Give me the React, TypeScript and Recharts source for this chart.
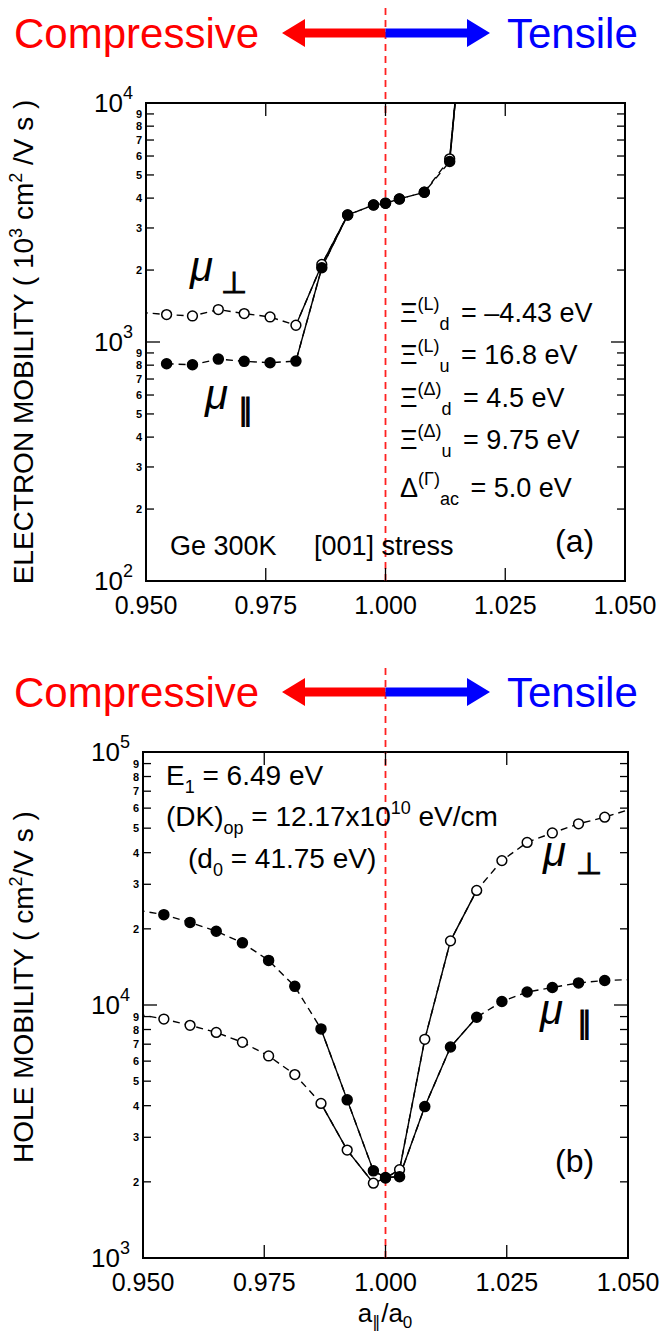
import React from "react";
import { LineChart, Line, XAxis, YAxis, ReferenceArea, ReferenceLine } from "recharts";

// strain points a_par/a0 (the first and last ones sit just outside the frame, they give the edge stubs)
const strainA = [0.9489, 0.9543, 0.9597, 0.9651, 0.9705, 0.9759, 0.9813, 0.9867, 0.9921, 0.9975, 1.0, 1.0029, 1.0081, 1.0134, 1.0188];
const electronPerp = [1330, 1302, 1285, 1367, 1315, 1273, 1175, 2111, 3400, 3745, 3806, 3968, 4232, 5840, 83000];
const electronPar = [null, 811, 803, 848, 830, 819, 832, 2044, 3400, 3745, 3806, 3968, 4232, 5690, 83000];

const strainB = [0.9489, 0.9543, 0.9597, 0.9651, 0.9705, 0.9759, 0.9813, 0.9867, 0.9921, 0.9975, 1.0, 1.0029, 1.0081, 1.0134, 1.0188, 1.024, 1.0292, 1.0344, 1.0398, 1.0452, 1.0506];
const holePerp = [9200, 8800, 8308, 7793, 7124, 6290, 5309, 4084, 2670, 1976, 2070, 2234, 7318, 17925, 28380, 37210, 43930, 47870, 52020, 55260, 59500];
const holePar = [23700, 22760, 21200, 19570, 17610, 15010, 11850, 8045, 4217, 2210, 2080, 2096, 3966, 6820, 8944, 10325, 11250, 11730, 12230, 12500, 12600];

// where the curves are drawn solid instead of dashed
const solidA: [number, number][] = [[0.9813, 0.9921], [1.0134, 1.0188]];
const solidB: [number, number][] = [[0.9867, 1.0188]];

const xTicks = [0.95, 0.975, 1.0, 1.025, 1.05];
const yTicksA = [100, 200, 300, 400, 500, 600, 700, 800, 900, 1000, 2000, 3000, 4000, 5000, 6000, 7000, 8000, 9000, 10000];
const yTicksB = [1000, 2000, 3000, 4000, 5000, 6000, 7000, 8000, 9000, 10000, 20000, 30000, 40000, 50000, 60000, 70000, 80000, 90000, 100000];

const W = 665;
const FONT = "'Liberation Sans', Arial, Helvetica, sans-serif";
const RED = "#ff0000";
const BLUE = "#0000ff";
const DASH_RED = "#ff2020";

function buildRows(xs: number[], perp: (number | null)[], par: (number | null)[], solid: [number, number][]) {
  const inSolid = (x: number) => solid.some(([a, b]) => x >= a - 1e-9 && x <= b + 1e-9);
  return xs.map((x, i) => ({
    x,
    perp: perp[i],
    par: par[i],
    perpSolid: inSolid(x) ? perp[i] : null,
    parSolid: inSolid(x) ? par[i] : null,
  }));
}

function makeYTick(plotW: number) {
  return function YTick(props: any) {
    const { x, y, payload } = props;
    const v: number = payload.value;
    const lg = Math.log10(v);
    const exp = Math.round(lg);
    const major = Math.abs(lg - exp) < 1e-6;
    const len = major ? 14 : 8;
    return (
      <g>
        <line x1={x} x2={x + len} y1={y} y2={y} stroke="#000" strokeWidth={1.3} />
        <line x1={x + plotW} x2={x + plotW - len} y1={y} y2={y} stroke="#000" strokeWidth={1.3} />
        {major ? (
          <text x={x - 13} y={y + 9} textAnchor="end" fontSize={26} fill="#000">
            10<tspan dy={-13} fontSize={18}>{exp}</tspan>
          </text>
        ) : (
          <text x={x - 4} y={y + 4} textAnchor="end" fontSize={11} fontWeight="bold" fill="#000">
            {Math.round(v / Math.pow(10, Math.floor(lg + 1e-9)))}
          </text>
        )}
      </g>
    );
  };
}

function makeXTick(plotH: number) {
  return function XTick(props: any) {
    const { x, y, payload } = props;
    const v: number = payload.value;
    const edge = v <= 0.95 + 1e-9 || v >= 1.05 - 1e-9;
    return (
      <g>
        {!edge && <line x1={x} x2={x} y1={y} y2={y - 13} stroke="#000" strokeWidth={1.3} />}
        {!edge && <line x1={x} x2={x} y1={y - plotH} y2={y - plotH + 13} stroke="#000" strokeWidth={1.3} />}
        <text x={x} y={y + 33} textAnchor="middle" fontSize={25} fill="#000">
          {v.toFixed(3)}
        </text>
      </g>
    );
  };
}

function makeDot(filled: boolean, yDomain: [number, number]) {
  return function Dot(props: any) {
    const { cx, cy, payload, value, index } = props;
    const v = Array.isArray(value) ? value[1] : value;
    if (payload.x < 0.95 || payload.x > 1.05 || v == null || v < yDomain[0] || v > yDomain[1]) {
      return <g key={index} />;
    }
    return (
      <circle
        key={index}
        cx={cx}
        cy={cy}
        r={filled ? 5 : 4.9}
        fill={filled ? "#000" : "#fff"}
        stroke="#000"
        strokeWidth={1.5}
      />
    );
  };
}

type PanelProps = {
  top: number;
  height: number;
  margin: { top: number; right: number; bottom: number; left: number };
  yDomain: [number, number];
  yTicks: number[];
  rows: any[];
};

const Y_W = 60;
const X_H = 50;

function Panel({ top, height, margin, yDomain, yTicks, rows }: PanelProps) {
  const plotW = W - margin.left - Y_W - margin.right;
  const plotH = height - margin.top - margin.bottom - X_H;
  const YTick = makeYTick(plotW);
  const XTick = makeXTick(plotH);
  const lineProps = {
    type: "linear" as const,
    stroke: "#000",
    strokeWidth: 1.4,
    isAnimationActive: false,
    activeDot: false,
  };
  return (
    <div style={{ position: "absolute", left: 0, top }}>
      <LineChart width={W} height={height} data={rows} margin={margin}>
        <XAxis
          dataKey="x"
          type="number"
          domain={[0.95, 1.05]}
          ticks={xTicks}
          allowDataOverflow
          interval={0}
          axisLine={false}
          tickLine={false}
          tickSize={0}
          tickMargin={0}
          height={X_H}
          tick={(p: any) => <XTick {...p} />}
        />
        <YAxis
          type="number"
          scale="log"
          domain={yDomain}
          ticks={yTicks}
          allowDataOverflow
          interval={0}
          axisLine={false}
          tickLine={false}
          tickSize={0}
          tickMargin={0}
          width={Y_W}
          tick={(p: any) => <YTick {...p} />}
        />
        <ReferenceLine x={1} stroke={DASH_RED} strokeWidth={1.8} strokeDasharray="7 5" />
        <Line {...lineProps} dataKey="perpSolid" dot={false} />
        <Line {...lineProps} dataKey="perp" strokeDasharray="7 5" dot={makeDot(false, yDomain)} />
        <Line {...lineProps} dataKey="parSolid" dot={false} />
        <Line {...lineProps} dataKey="par" strokeDasharray="7 5" dot={makeDot(true, yDomain)} />
        <ReferenceArea
          x1={0.95}
          x2={1.05}
          y1={yDomain[0]}
          y2={yDomain[1]}
          fill="none"
          stroke="#000"
          strokeWidth={2}
          ifOverflow="visible"
        />
      </LineChart>
    </div>
  );
}

function Header({ cy, lineX, lineTop, lineBottom }: { cy: number; lineX: number; lineTop: number; lineBottom: number }) {
  const shaft = 4.5;
  const head = 14;
  return (
    <g>
      <line x1={lineX} x2={lineX} y1={lineTop} y2={lineBottom} stroke={DASH_RED} strokeWidth={1.8} strokeDasharray="7 5" />
      <text x={14} y={cy + 15} fontSize={42} fill={RED}>Compressive</text>
      <path
        d={`M${lineX},${cy - shaft} L305,${cy - shaft} L305,${cy - head} L282,${cy} L305,${cy + head} L305,${cy + shaft} L${lineX},${cy + shaft} Z`}
        fill={RED}
      />
      <path
        d={`M${lineX},${cy - shaft} L467,${cy - shaft} L467,${cy - head} L490,${cy} L467,${cy + head} L467,${cy + shaft} L${lineX},${cy + shaft} Z`}
        fill={BLUE}
      />
      <text x={507} y={cy + 15} fontSize={42} fill={BLUE}>Tensile</text>
    </g>
  );
}

function Xi({ x, y, sup, sub, rest, sym = "Ξ" }: { x: number; y: number; sup: string; sub: string; rest: string; sym?: string }) {
  return (
    <text x={x} y={y} fontSize={27} fill="#000">
      {sym}
      <tspan dy={-12} fontSize={18}>{sup}</tspan>
      <tspan dy={20} fontSize={18}>{sub}</tspan>
      <tspan dy={-8} dx={4}>{rest}</tspan>
    </text>
  );
}

function Mu({ x, y, sub, subDx, subDy }: { x: number; y: number; sub: string; subDx: number; subDy: number }) {
  return (
    <text x={x} y={y} fontSize={42} fontStyle="italic" fill="#000">
      μ
      <tspan dx={subDx} dy={subDy} fontSize={30} fontStyle="normal" stroke="#000" strokeWidth={1}>{sub}</tspan>
    </text>
  );
}

const marginA = { top: 103, right: 40, bottom: 9, left: 86 };
const marginB = { top: 92, right: 37, bottom: 23, left: 83 };
const lineXA = marginA.left + Y_W + (W - marginA.left - Y_W - marginA.right) / 2;
const lineXB = marginB.left + Y_W + (W - marginB.left - Y_W - marginB.right) / 2;

export default function App() {
  const rowsA = buildRows(strainA, electronPerp, electronPar, solidA);
  const rowsB = buildRows(strainB, holePerp, holePar, solidB);
  return (
    <div style={{ position: "absolute", left: 0, top: 0, width: W, height: 1331, background: "#fff", fontFamily: FONT }}>
      <Panel top={0} height={640} margin={marginA} yDomain={[100, 10000]} yTicks={yTicksA} rows={rowsA} />
      <Panel top={660} height={671} margin={marginB} yDomain={[1000, 100000]} yTicks={yTicksB} rows={rowsB} />
      <svg width={W} height={1331} style={{ position: "absolute", left: 0, top: 0, pointerEvents: "none", fontFamily: FONT }}>
        <Header cy={33} lineX={lineXA} lineTop={8} lineBottom={marginA.top} />
        <Header cy={692} lineX={lineXB} lineTop={668} lineBottom={660 + marginB.top} />

        {/* panel (a) */}
        <text transform="translate(33,342) rotate(-90)" textAnchor="middle" fontSize={28} fill="#000">
          ELECTRON MOBILITY ( 10<tspan dy={-11} fontSize={18}>3</tspan>
          <tspan dy={11}> cm</tspan>
          <tspan dy={-11} fontSize={18}>2</tspan>
          <tspan dy={11}> /V s )</tspan>
        </text>
        <Mu x={190} y={281} sub="⊥" subDx={8} subDy={12} />
        <Mu x={205} y={409} sub="∥" subDx={10} subDy={11} />
        <Xi x={400} y={322} sup="(L)" sub="d" rest=" = –4.43 eV" />
        <Xi x={400} y={364} sup="(L)" sub="u" rest=" = 16.8 eV" />
        <Xi x={400} y={407} sup="(Δ)" sub="d" rest=" = 4.5 eV" />
        <Xi x={400} y={449} sup="(Δ)" sub="u" rest=" = 9.75 eV" />
        <Xi x={400} y={497} sym="Δ" sup="(Γ)" sub="ac" rest=" = 5.0 eV" />
        <text x={170} y={555} fontSize={27} fill="#000">Ge 300K</text>
        <text x={314} y={555} fontSize={27} fill="#000">[001] stress</text>
        <text x={555} y={552} fontSize={32} fill="#000">(a)</text>

        {/* panel (b) */}
        <text transform="translate(33,987) rotate(-90)" textAnchor="middle" fontSize={28} fill="#000">
          HOLE MOBILITY  ( cm<tspan dy={-11} fontSize={18}>2</tspan>
          <tspan dy={11}>/V s )</tspan>
        </text>
        <text x={166} y={785} fontSize={28} fill="#000">
          E<tspan dy={8} fontSize={18}>1</tspan>
          <tspan dy={-8}> = 6.49 eV</tspan>
        </text>
        <text x={166} y={826} fontSize={28} fill="#000">
          (DK)<tspan dy={8} fontSize={18}>op</tspan>
          <tspan dy={-8}> = 12.17x10</tspan>
          <tspan dy={-12} fontSize={18}>10</tspan>
          <tspan dy={12}> eV/cm</tspan>
        </text>
        <text x={188} y={868} fontSize={28} fill="#000">
          (d<tspan dy={8} fontSize={18}>0</tspan>
          <tspan dy={-8}> = 41.75 eV)</tspan>
        </text>
        <Mu x={543} y={866} sub="⊥" subDx={10} subDy={8} />
        <Mu x={540} y={1024} sub="∥" subDx={14} subDy={9} />
        <text x={555} y={1172} fontSize={32} fill="#000">(b)</text>
        <text x={385} y={1322} textAnchor="middle" fontSize={26} fill="#000">
          a<tspan dy={6} fontSize={17}>∥</tspan>
          <tspan dy={-6}>/a</tspan>
          <tspan dy={6} fontSize={17}>0</tspan>
        </text>
      </svg>
    </div>
  );
}
